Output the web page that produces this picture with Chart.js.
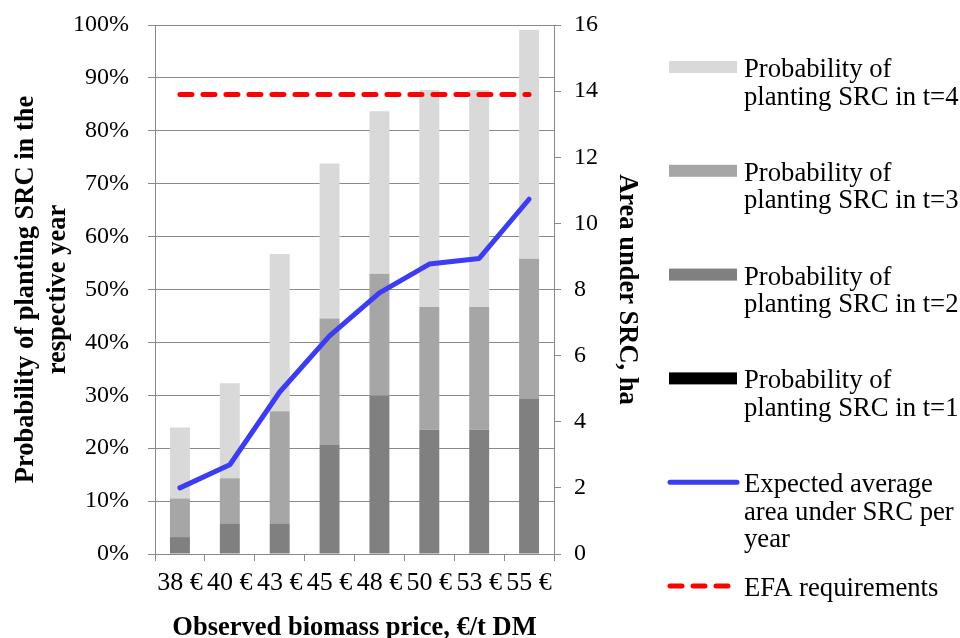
<!DOCTYPE html>
<html>
<head>
<meta charset="utf-8">
<script src="https://cdn.jsdelivr.net/npm/chart.js@4/dist/chart.umd.min.js"></script>
<style>
  html, body { margin: 0; padding: 0; background: #fff; }
  #wrap { width: 960px; height: 638px; }
</style>
</head>
<body>
<div id="wrap"><canvas id="chart" width="960" height="638"></canvas></div>
<script>
const prices = ['38 €', '40 €', '43 €', '45 €', '48 €', '50 €', '53 €', '55 €'];
const probT1 = [0, 0, 0, 0, 0, 0, 0, 0];
const probT2 = [3.2, 5.8, 5.8, 20.6, 29.9, 23.5, 23.5, 29.3];
const probT3 = [7.3, 8.5, 21.2, 23.9, 23.1, 23.2, 23.2, 26.5];
const probT4 = [13.4, 18.0, 29.7, 29.3, 30.7, 41.0, 41.0, 43.3];
const avgArea = [2.0, 2.7, 4.9, 6.6, 7.9, 8.77, 8.94, 10.73];
const efaReq = [13.9, 13.9, 13.9, 13.9, 13.9, 13.9, 13.9, 13.9];

const font = 'Liberation Serif, Times New Roman, serif';
const gridColor = '#898989';

// legend drawn on the right side, text wrapped like in the original
const sideLegend = {
    id: 'sideLegend',
    afterDraw(chart) {
        const ctx = chart.ctx;
        const order = [3, 2, 1, 0, 4, 5];
        ctx.save();
        ctx.font = '26.7px ' + font;
        ctx.textBaseline = 'alphabetic';
        order.forEach((i, k) => {
            const ds = chart.data.datasets[i];
            const y = 67 + 103.8 * k;
            if (ds.type === 'line') {
                ctx.beginPath();
                ctx.strokeStyle = ds.borderColor;
                ctx.lineWidth = 5;
                ctx.lineCap = 'round';
                ctx.setLineDash(ds.borderDash || []);
                ctx.moveTo(670, y);
                ctx.lineTo(737, y);
                ctx.stroke();
                ctx.setLineDash([]);
            } else {
                ctx.fillStyle = ds.backgroundColor;
                ctx.fillRect(669, y - 6, 68, 12);
            }
            ctx.fillStyle = '#000';
            const words = ds.label.split(' ');
            let line = '';
            let ly = y + 10;
            words.forEach(w => {
                const test = line ? line + ' ' + w : w;
                if (ctx.measureText(test).width > 226 && line) {
                    ctx.fillText(line, 744, ly);
                    line = w;
                    ly += 27.5;
                } else {
                    line = test;
                }
            });
            ctx.fillText(line, 744, ly);
        });
        ctx.restore();
    }
};

const ctx = document.getElementById('chart').getContext('2d');
new Chart(ctx, {
    type: 'bar',
    data: {
        labels: prices,
        datasets: [
            { label: 'Probability of planting SRC in t=1', data: probT1, backgroundColor: '#000000', yAxisID: 'y', order: 1 },
            { label: 'Probability of planting SRC in t=2', data: probT2, backgroundColor: '#808080', yAxisID: 'y', order: 1 },
            { label: 'Probability of planting SRC in t=3', data: probT3, backgroundColor: '#a6a6a6', yAxisID: 'y', order: 1 },
            { label: 'Probability of planting SRC in t=4', data: probT4, backgroundColor: '#d9d9d9', yAxisID: 'y', order: 1 },
            {
                type: 'line', label: 'Expected average area under SRC per year', data: avgArea,
                borderColor: '#3c3cf2', borderWidth: 5, pointRadius: 0, yAxisID: 'y1', order: 0,
                borderCapStyle: 'round', borderJoinStyle: 'round', tension: 0
            },
            {
                type: 'line', label: 'EFA requirements', data: efaReq,
                borderColor: '#ff0000', borderWidth: 5, borderDash: [12, 11], borderCapStyle: 'round',
                pointRadius: 0, yAxisID: 'y1', order: 0
            }
        ]
    },
    options: {
        responsive: false,
        animation: false,
        layout: { padding: { left: 8, right: 304, top: 25, bottom: -3 } },
        plugins: {
            legend: { display: false },
            tooltip: { enabled: false }
        },
        datasets: {
            bar: { categoryPercentage: 1, barPercentage: 0.4, stack: 'p' }
        },
        scales: {
            x: {
                stacked: true,
                afterFit: s => { s.height = 87; },
                grid: { drawOnChartArea: false, color: gridColor, tickLength: 7, offset: true },
                border: { color: gridColor },
                ticks: { font: { family: font, size: 26 }, color: '#000', autoSkip: false, maxRotation: 0, padding: 7 },
                title: {
                    display: true, text: 'Observed biomass price, €/t DM',
                    font: { family: font, size: 26.5, weight: 'bold', lineHeight: 1 }, color: '#000',
                    padding: { top: 8, bottom: 0 }
                }
            },
            y: {
                stacked: true,
                min: 0, max: 100,
                afterFit: s => { s.width = 147; s.paddingTop = 0; },
                grid: { color: gridColor, tickLength: 7 },
                border: { color: gridColor },
                ticks: {
                    stepSize: 10, font: { family: font, size: 24 }, color: '#000', padding: 19,
                    callback: v => v + '%'
                },
                title: {
                    display: true, text: ['Probability of planting SRC in the', 'respective year'],
                    font: { family: font, size: 26.5, weight: 'bold', lineHeight: 1.2 }, color: '#000',
                    padding: { top: 2, bottom: 1 }
                }
            },
            y1: {
                position: 'right',
                min: 0, max: 16,
                afterFit: s => { s.width = 102; s.paddingTop = 0; },
                grid: { drawOnChartArea: false, color: gridColor, tickLength: 7 },
                border: { color: gridColor },
                ticks: { stepSize: 2, font: { family: font, size: 24 }, color: '#000', padding: 13 },
                title: {
                    display: true, text: 'Area under SRC, ha',
                    font: { family: font, size: 26.5, weight: 'bold' }, color: '#000', padding: 13
                }
            }
        }
    },
    plugins: [sideLegend]
});
</script>
</body>
</html>
